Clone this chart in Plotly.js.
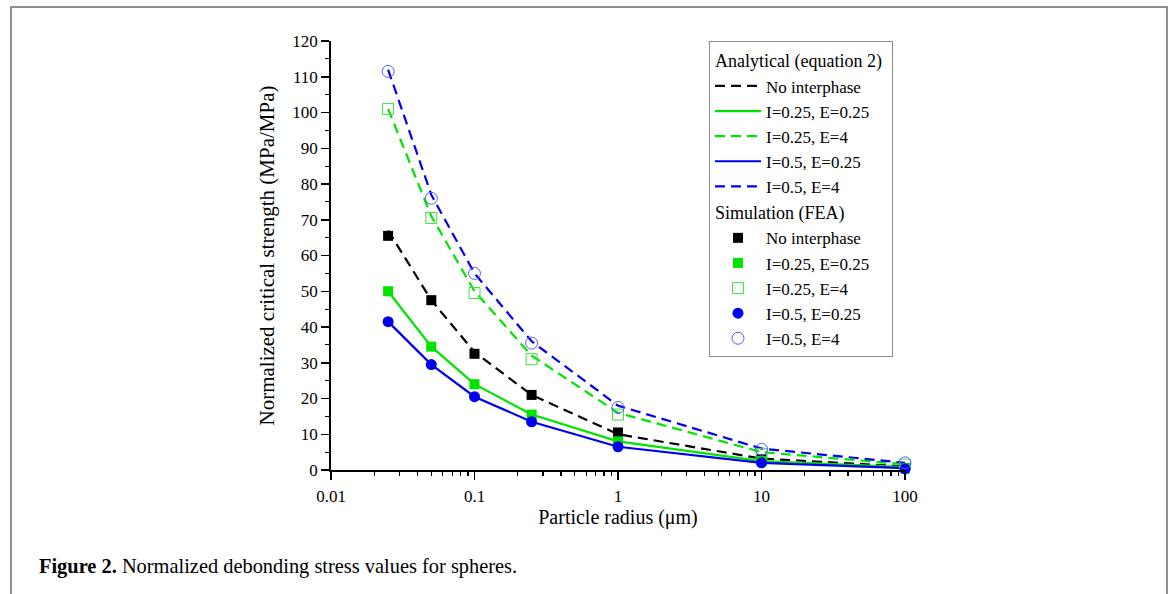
<!DOCTYPE html>
<html>
<head>
<meta charset="utf-8">
<script src="https://cdn.plot.ly/plotly-3.0.1.min.js"></script>
<style>
  html, body { margin: 0; padding: 0; background: #ffffff; }
  #chart { width: 1173px; height: 594px; }
</style>
</head>
<body>
<div id="chart"></div>
<script>
// Particle radius (µm)
const radius = [0.025, 0.05, 0.1, 0.25, 1, 10, 100];

// Analytical (equation 2)
const anaNoInterphase = [67, 47.5, 33, 21, 10, 3.2, 1.0];
const anaI025E025     = [50, 34.5, 24, 15.5, 8, 2.5, 0.8];
const anaI025E4       = [101, 71, 50, 32, 16, 5, 1.6];
const anaI05E025      = [41.5, 29.5, 20.5, 13.5, 6.5, 2, 0.5];
const anaI05E4        = [112, 77, 55, 36, 18, 6, 2];

// Simulation (FEA)
const feaNoInterphase = [65.5, 47.5, 32.5, 21, 10.5, 3, 0.5];
const feaI025E025     = [50, 34.5, 24, 15.5, 8, 2.5, 0.5];
const feaI025E4       = [101, 70.5, 49.5, 31, 15.5, 4.5, 1.5];
const feaI05E025      = [41.5, 29.5, 20.5, 13.5, 6.5, 2, 0.3];
const feaI05E4        = [111.5, 76, 55, 35.5, 17.5, 5.8, 2];

const seriesNames = ['No interphase', 'I=0.25, E=0.25', 'I=0.25, E=4', 'I=0.5, E=0.25', 'I=0.5, E=4'];
const groupTitles = ['Analytical (equation 2)', 'Simulation (FEA)'];

const xTickVals = [0.01, 0.1, 1, 10, 100];
const xTickText = ['0.01', '0.1', '1', '10', '100'];

const FONT = '"Liberation Serif", "Times New Roman", Times, serif';
const BLACK = '#000000';
const GREEN = '#00e400';
const BLUE = '#0000f0';
const GREEN_OPEN = '#3ee03e';
const BLUE_OPEN = '#5a5aff';

const DASH = '10px,6px';
const LEGEND_SIZE = 17;

const anaData = [anaNoInterphase, anaI025E025, anaI025E4, anaI05E025, anaI05E4];
const anaStyle = [
  {color: BLACK, dash: DASH},
  {color: GREEN, dash: 'solid'},
  {color: GREEN, dash: DASH},
  {color: BLUE, dash: 'solid'},
  {color: BLUE, dash: DASH}
];

const feaData = [feaNoInterphase, feaI025E025, feaI025E4, feaI05E025, feaI05E4];
const feaStyle = [
  {symbol: 'square', color: BLACK, line: {width: 0}},
  {symbol: 'square', color: GREEN, line: {width: 0}},
  {symbol: 'square-open', color: GREEN_OPEN, line: {width: 1, color: GREEN_OPEN}},
  {symbol: 'circle', color: BLUE, line: {width: 0}},
  {symbol: 'circle-open', color: BLUE_OPEN, line: {width: 1, color: BLUE_OPEN}}
];
const feaSizes = [10, 10, 11, 11, 12];

const traces = [];
anaData.forEach((ys, i) => {
  const t = {
    x: radius, y: ys, type: 'scatter', mode: 'lines',
    name: seriesNames[i], legendgroup: 'ana',
    line: {color: anaStyle[i].color, dash: anaStyle[i].dash, width: 2.2},
    cliponaxis: false
  };
  if (i === 0) t.legendgrouptitle = {text: groupTitles[0], font: {family: FONT, size: LEGEND_SIZE + 1, color: '#000'}};
  traces.push(t);
});
feaData.forEach((ys, i) => {
  const t = {
    x: radius, y: ys, type: 'scatter', mode: 'markers',
    name: seriesNames[i], legendgroup: 'fea',
    marker: {symbol: feaStyle[i].symbol, color: feaStyle[i].color, size: feaSizes[i], line: feaStyle[i].line},
    cliponaxis: false
  };
  if (i === 0) t.legendgrouptitle = {text: groupTitles[1], font: {family: FONT, size: LEGEND_SIZE + 1, color: '#000'}};
  traces.push(t);
});

const layout = {
  width: 1173, height: 594,
  margin: {l: 331, r: 268, t: 41, b: 124},
  paper_bgcolor: '#ffffff', plot_bgcolor: '#ffffff',
  font: {family: FONT, color: '#000', size: 17},
  showlegend: true,
  legend: {
    x: 0.6585, y: 1, xanchor: 'left', yanchor: 'top',
    bgcolor: '#ffffff', bordercolor: '#8a8a8a', borderwidth: 1,
    font: {family: FONT, size: LEGEND_SIZE, color: '#000'},
    traceorder: 'grouped', tracegroupgap: 0, itemwidth: 46
  },
  xaxis: {
    type: 'log', range: [-2, 2],
    tickmode: 'array', tickvals: xTickVals, ticktext: xTickText,
    ticks: 'outside', ticklen: 8, tickwidth: 1.5, tickcolor: '#000',
    ticklabelstandoff: 2,
    minor: {ticks: 'outside', ticklen: 4, tickwidth: 1.2, tickcolor: '#000', dtick: 'D1', showgrid: false},
    showline: true, linecolor: '#000', linewidth: 1.8,
    showgrid: false, zeroline: false, mirror: false,
    tickfont: {family: FONT, size: 17, color: '#000'},
    title: {text: 'Particle radius (μm)', font: {family: FONT, size: 20, color: '#000'}, standoff: 0}
  },
  yaxis: {
    range: [0, 120], dtick: 10, tick0: 0,
    ticks: 'outside', ticklen: 8, tickwidth: 1.5, tickcolor: '#000',
    minor: {ticks: 'outside', ticklen: 4, tickwidth: 1.2, tickcolor: '#000', dtick: 5, showgrid: false},
    showline: true, linecolor: '#000', linewidth: 1.8,
    showgrid: false, zeroline: false, mirror: false,
    tickfont: {family: FONT, size: 17, color: '#000'},
    title: {text: 'Normalized critical strength (MPa/MPa)', font: {family: FONT, size: 21, color: '#000'}, standoff: 12}
  },
  shapes: [{
    type: 'path', xref: 'paper', yref: 'paper',
    path: 'M -0.5575,-0.303 L -0.5575,1.0793 L 1.4564,1.0793 L 1.4564,-0.303',
    line: {color: '#8f8f8f', width: 2}
  }],
  annotations: [{
    xref: 'paper', yref: 'paper', x: -0.5122, y: -0.2261,
    xanchor: 'left', yanchor: 'middle', showarrow: false,
    text: '<b>Figure 2.</b> Normalized debonding stress values for spheres.',
    font: {family: FONT, size: 20.4, color: '#000'}
  }]
};

Plotly.newPlot('chart', traces, layout, {displayModeBar: false, staticPlot: true});
</script>
</body>
</html>
